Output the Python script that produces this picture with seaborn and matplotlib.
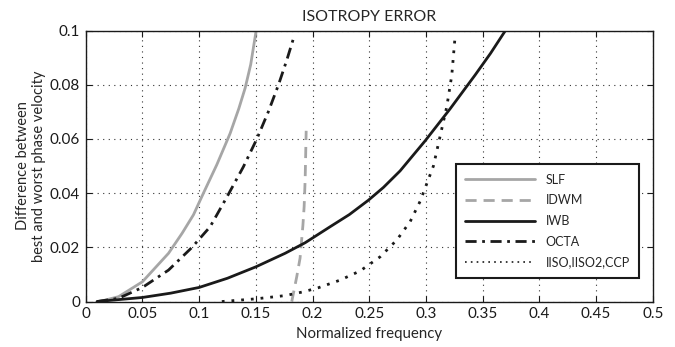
import matplotlib
matplotlib.use('Agg')
import matplotlib.pyplot as plt
import seaborn as sns
import pandas as pd

# values
slf_f = [0.010, 0.015, 0.029, 0.050, 0.073, 0.085, 0.095, 0.1038, 0.1156, 0.1273, 0.135, 0.1406, 0.1455, 0.1503]
slf_v = [0.000, 0.0003, 0.0018, 0.0073, 0.0178, 0.0252, 0.032, 0.040, 0.0505, 0.062, 0.0712, 0.0788, 0.0875, 0.100]

idwm_f = [0.1817, 0.1861, 0.189, 0.1915, 0.1926, 0.1935, 0.194, 0.1944]
idwm_v = [0.000, 0.0092, 0.016, 0.028, 0.035, 0.045, 0.055, 0.063]

iwb_f = [0.010, 0.026, 0.050, 0.075, 0.100, 0.125, 0.150, 0.1758, 0.1935, 0.2155, 0.2325, 0.2493, 0.2625,
         0.2772, 0.2993, 0.3213, 0.3434, 0.357, 0.3698]
iwb_v = [0.000, 0.0006, 0.0015, 0.0031, 0.0052, 0.0086, 0.0128, 0.0178, 0.0217, 0.0276, 0.0321, 0.0374, 0.0421,
         0.0482, 0.0593, 0.0711, 0.0836, 0.0916, 0.0998]

octa_f = [0.010, 0.029, 0.050, 0.073, 0.0935, 0.1097, 0.1244, 0.139, 0.1509, 0.161, 0.170, 0.1773, 0.1832]
octa_v = [0.000, 0.0012, 0.0052, 0.0116, 0.0199, 0.0276, 0.0385, 0.0497, 0.0600, 0.0700, 0.0800, 0.0891, 0.0971]

iiso_f = [0.120, 0.150, 0.176, 0.192, 0.2052, 0.2243, 0.242, 0.2596, 0.2743, 0.2861, 0.2949, 0.3066, 0.3125,
          0.3184, 0.3228, 0.3257]
iiso_v = [0.000, 0.001, 0.0022, 0.0036, 0.0051, 0.0079, 0.0113, 0.0165, 0.0227, 0.0295, 0.0370, 0.050, 0.0610,
          0.0719, 0.0835, 0.0977]

names = ['SLF', 'IDWM', 'IWB', 'OCTA', 'IISO,IISO2,CCP']
series = [(slf_f, slf_v), (idwm_f, idwm_v), (iwb_f, iwb_v), (octa_f, octa_v), (iiso_f, iiso_v)]

frames = []
for name, (f, v) in zip(names, series):
    frames.append(pd.DataFrame({'freq': f, 'err': v, 'method': name}))
df = pd.concat(frames, ignore_index=True)

palette = {'SLF': '#a6a6a6', 'IDWM': '#a6a6a6', 'IWB': '#1a1a1a',
           'OCTA': '#1a1a1a', 'IISO,IISO2,CCP': '#1a1a1a'}
dashes = {'SLF': '', 'IDWM': (4, 2.5), 'IWB': '', 'OCTA': (4, 2, 1, 2),
          'IISO,IISO2,CCP': (1, 2.5)}

sns.set_style('ticks')
plt.rcParams['font.family'] = ['Lato', 'DejaVu Sans']

fig = plt.figure(figsize=(6.75, 3.47), dpi=100)
ax = fig.add_axes([0.127, 0.131, 0.840, 0.781])

sns.lineplot(data=df, x='freq', y='err', hue='method', style='method',
             palette=palette, dashes=dashes, estimator=None, sort=False,
             linewidth=2, ax=ax)
# dotted line is thinner
for line in ax.get_lines():
    if line.get_label() == 'IISO,IISO2,CCP':
        line.set_linewidth(1.2)

ax.set_xlim(0, 0.5)
ax.set_ylim(0, 0.1)
ax.set_xticks([0, 0.05, 0.1, 0.15, 0.2, 0.25, 0.3, 0.35, 0.4, 0.45, 0.5])
ax.set_xticklabels(['0', '0.05', '0.1', '0.15', '0.2', '0.25', '0.3', '0.35', '0.4', '0.45', '0.5'])
ax.set_yticks([0, 0.02, 0.04, 0.06, 0.08, 0.1])
ax.set_yticklabels(['0', '0.02', '0.04', '0.06', '0.08', '0.1'])
ax.tick_params(direction='in', top=True, right=True, length=4, width=0.8,
               labelsize=11, colors='#1a1a1a', pad=4)
ax.grid(True, linestyle=(0, (1, 4)), color='#333333', linewidth=0.8)
for s in ax.spines.values():
    s.set_visible(True)
    s.set_linewidth(1.0)
    s.set_color('#1a1a1a')

ax.set_xlabel('Normalized frequency', fontsize=10.8, labelpad=4)
ax.set_ylabel('Difference between\nbest and worst phase velocity', fontsize=10.5, labelpad=3)
ax.set_title('ISOTROPY ERROR', fontsize=11.5, pad=7)

leg = ax.legend(loc='lower right', bbox_to_anchor=(0.976, 0.087), borderaxespad=0,
                fontsize=9, handlelength=5.6, labelspacing=0.7, borderpad=0.75,
                fancybox=False, framealpha=1)
leg.get_frame().set_edgecolor('#1a1a1a')
leg.get_frame().set_linewidth(1.5)
for h in leg.get_lines():
    if h.get_label() == 'IISO,IISO2,CCP':
        h.set_linewidth(1.2)

fig.savefig('out.png', dpi=100)
